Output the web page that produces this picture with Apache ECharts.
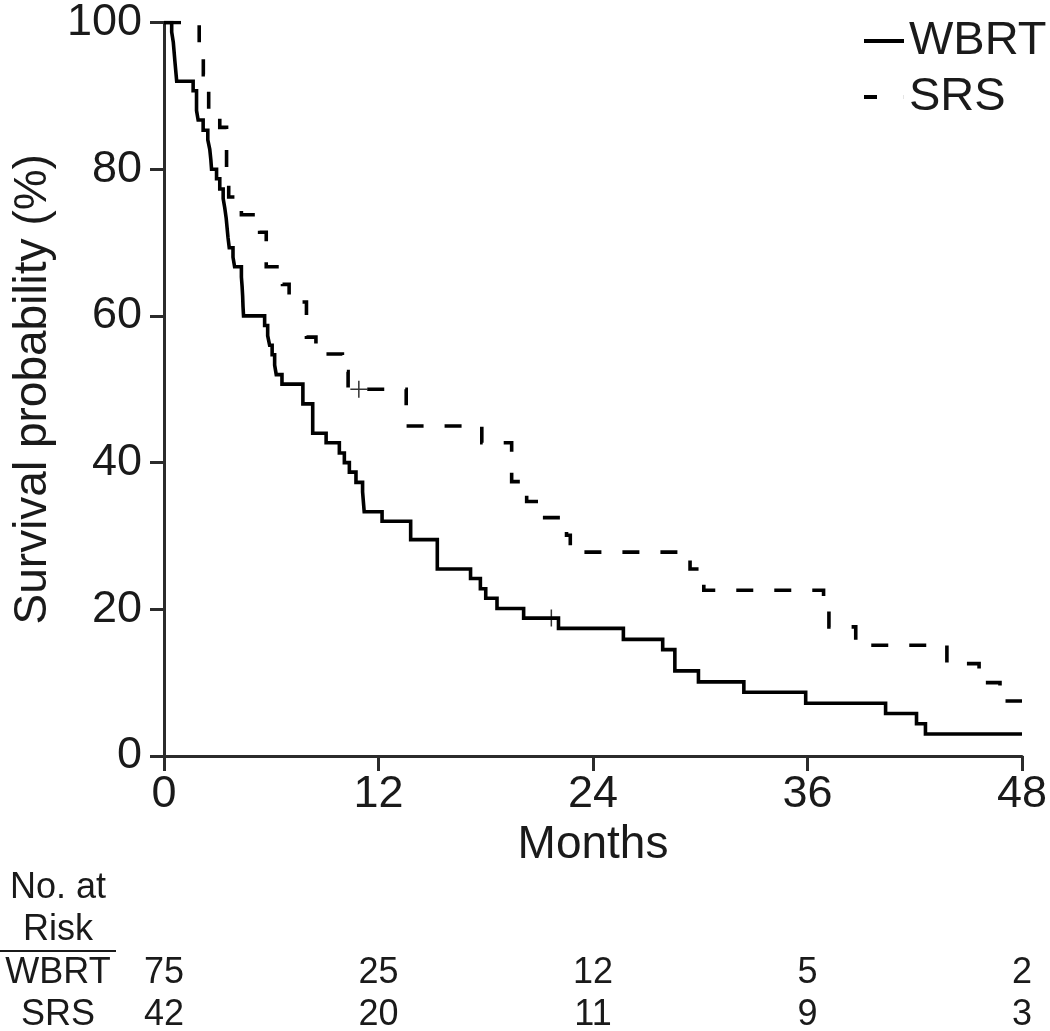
<!DOCTYPE html>
<html><head><meta charset="utf-8">
<script src="https://cdn.jsdelivr.net/npm/echarts@6/dist/echarts.min.js"></script>
<style>html,body{margin:0;padding:0;background:#fff}#c{width:1050px;height:1031px}</style>
</head><body><div id="c"></div>
<script>
// ---- data ----
const seriesNames = ['WBRT', 'SRS'];
const wbrtMonths = [0,0.43,0.52,0.61,0.71,1.63,1.82,1.91,2.19,2.45,2.56,2.62,2.66,2.94,3.12,3.31,3.40,3.48,3.53,3.58,3.65,3.86,3.95,4.33,4.37,4.40,4.42,4.45,
  5.63,5.80,5.91,6.05,6.19,6.28,6.60,7.77,8.32,9.07,9.81,10.09,10.37,10.74,11.11,11.20,12.20,13.80,15.29,17.15,17.70,18.00,18.63,20.12,22.07,25.70,27.90,28.58,29.90,32.44,35.90,40.37,42.10,42.60,48];
const wbrtSurvival = [100,98.7,97.3,94.7,92.0,90.7,88.0,86.7,85.3,84.0,82.7,81.3,80.0,78.7,77.3,76.0,74.7,73.3,72.0,70.7,69.3,68.0,66.7,65.3,64.0,62.7,61.3,60.0,
  58.7,57.3,56.0,54.7,53.3,52.0,50.7,48.0,44.0,42.7,41.3,40.0,38.7,37.3,36.0,33.3,32.0,29.5,25.5,24.2,22.8,21.5,20.1,18.8,17.4,15.9,14.5,11.6,10.1,8.7,7.2,5.8,4.4,3.0,3.0];
const srsMonths = [0,1.97,2.20,2.50,3.12,3.50,3.62,4.33,5.35,5.72,6.63,7.00,7.97,8.50,9.98,10.30,13.55,17.78,19.45,20.29,21.05,22.52,22.73,29.43,30.20,36.90,37.20,38.70,43.80,45.60,46.77,48];
const srsSurvival = [100,95.2,92.9,88.1,85.7,78.6,76.2,73.8,71.4,66.7,64.3,61.9,57.1,54.8,52.4,50.0,45.0,42.7,37.4,34.7,32.5,30.1,27.8,25.5,22.6,20.1,17.6,15.1,12.6,10.0,7.5,7.5];
const wbrtCensorMonths = [21.67];
const wbrtCensorSurvival = [18.8];
const srsCensorMonths = [10.9];
const srsCensorSurvival = [50.0];
const riskMonths = [0, 12, 24, 36, 48];
const wbrtAtRisk = [75, 25, 12, 5, 2];
const srsAtRisk = [42, 20, 11, 9, 3];
const riskHeader = ['No. at', 'Risk'];

// ---- chart ----
const FONT = '"Liberation Sans", Arial, Helvetica, sans-serif';
const INK = '#1a1a1a';
const AXIS = '#2b2b2b';
const zip = (a, b) => a.map((v, i) => [v, b[i]]);
const plusPath = 'path://M0,8.2H18V9.8H0Z M8.2,0H9.8V18H8.2Z';

const chart = echarts.init(document.getElementById('c'), null, {renderer: 'canvas'});
chart.setOption({
  animation: false,
  backgroundColor: '#fff',
  grid: {left: 164, right: 25, top: 16, bottom: 275, containLabel: false},
  legend: {
    orient: 'vertical', left: 864, top: 16, padding: 0,
    itemWidth: 40, itemHeight: 4, itemGap: 6,
    selectedMode: false,
    textStyle: {fontFamily: FONT, fontSize: 47, color: INK, lineHeight: 50},
    itemStyle: {color: '#000', borderWidth: 0},
    data: [
      {name: seriesNames[0], icon: 'path://M0,0H40V4H0Z'},
      {name: seriesNames[1], icon: 'path://M0,0H13V4H0Z M39.9,0H40V4H39.9Z'}
    ]
  },
  xAxis: {
    type: 'value', min: 0, max: 48, interval: 12,
    name: 'Months', nameLocation: 'middle', nameGap: 66,
    nameTextStyle: {fontFamily: FONT, fontSize: 46, color: INK},
    axisLine: {lineStyle: {color: AXIS, width: 3}},
    axisTick: {length: 15, lineStyle: {color: AXIS, width: 3}},
    axisLabel: {fontFamily: FONT, fontSize: 45, color: INK, margin: 16},
    splitLine: {show: false}
  },
  yAxis: {
    type: 'value', min: 0, max: 100, interval: 20,
    name: 'Survival probability (%)', nameLocation: 'middle', nameGap: 75, nameRotate: 90,
    nameTextStyle: {fontFamily: FONT, fontSize: 46, color: INK},
    axisLine: {show: true, lineStyle: {color: AXIS, width: 3}},
    axisTick: {show: true, length: 14, lineStyle: {color: AXIS, width: 3}},
    axisLabel: {fontFamily: FONT, fontSize: 45, color: INK, margin: 22},
    splitLine: {show: false}
  },
  series: [
    {name: seriesNames[0], type: 'line', step: 'end', symbol: 'none', data: zip(wbrtMonths, wbrtSurvival),
     lineStyle: {color: '#000', width: 3.6, cap: 'butt', join: 'miter'}, itemStyle: {color: '#000'}},
    {name: seriesNames[1], type: 'line', step: 'end', symbol: 'none', data: zip(srsMonths, srsSurvival),
     lineStyle: {color: '#000', width: 3.6, type: [17, 21], cap: 'butt', join: 'miter'}, itemStyle: {color: '#000'}},
    {name: 'WBRT censored', type: 'scatter', symbol: plusPath, symbolSize: 17, data: zip(wbrtCensorMonths, wbrtCensorSurvival),
     itemStyle: {color: '#000'}},
    {name: 'SRS censored', type: 'scatter', symbol: plusPath, symbolSize: 17, data: zip(srsCensorMonths, srsCensorSurvival),
     itemStyle: {color: '#000'}}
  ]
});

// ---- number-at-risk table (x from the chart's own x scale) ----
const tableFont = '36px ' + FONT;
const rowY = {head1: 888, head2: 930, wbrt: 973, srs: 1015};
const labelX = 58;
const txt = (text, x, y) => ({type: 'text', silent: true, style: {text: String(text), x: x, y: y, font: tableFont, fill: INK,
  align: 'center', verticalAlign: 'middle', textAlign: 'center', textVerticalAlign: 'middle'}});
const g = [];
g.push(txt(riskHeader[0], labelX, rowY.head1));
g.push(txt(riskHeader[1], labelX, rowY.head2));
g.push({type: 'line', silent: true, shape: {x1: 0, y1: 951, x2: 116, y2: 951}, style: {stroke: INK, lineWidth: 2}});
g.push(txt(seriesNames[0], labelX, rowY.wbrt));
g.push(txt(seriesNames[1], labelX, rowY.srs));
riskMonths.forEach((m, i) => {
  const px = chart.convertToPixel({xAxisIndex: 0}, m);
  g.push(txt(wbrtAtRisk[i], px, rowY.wbrt));
  g.push(txt(srsAtRisk[i], px, rowY.srs));
});
chart.setOption({graphic: g});
</script></body></html>
